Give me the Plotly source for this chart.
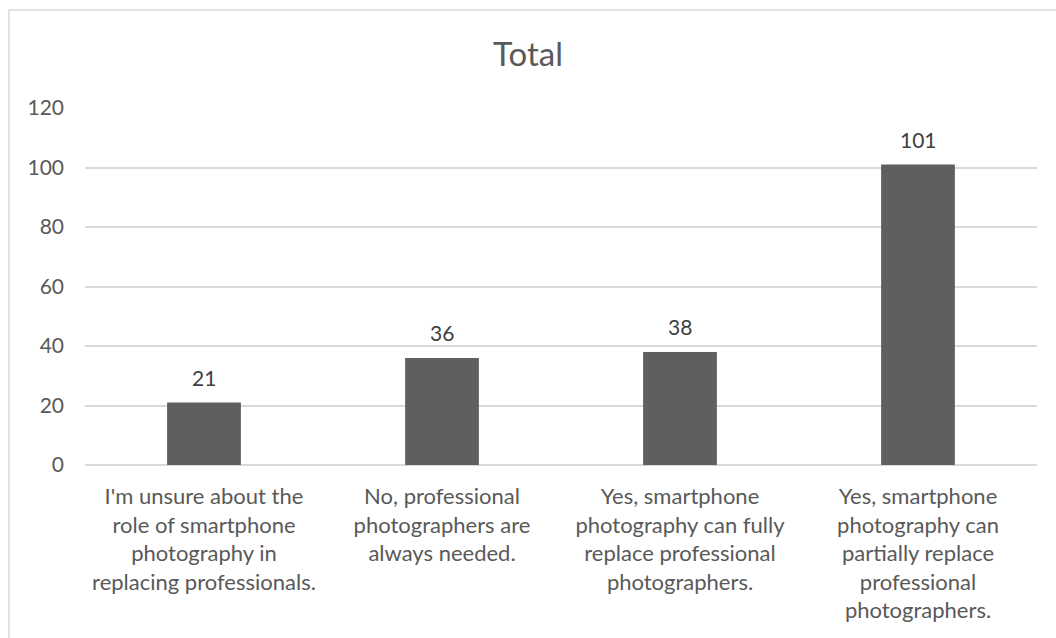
import plotly.graph_objects as go

categories = [
    "I'm unsure about the<br>role of smartphone<br>photography in<br>replacing professionals.",
    "No, professional<br>photographers are<br>always needed.",
    "Yes, smartphone<br>photography can fully<br>replace professional<br>photographers.",
    "Yes, smartphone<br>photography can<br>partially replace<br>professional<br>photographers.",
]
values = [21, 36, 38, 101]
tick_vals = [0, 20, 40, 60, 80, 100, 120]

FONT = "Lato"
TXT = "#595959"

fig = go.Figure(go.Bar(
    x=categories, y=values,
    marker=dict(color="#5f5f5f", line=dict(width=0)),
    width=0.31,
))

for c, v in zip(categories, values):
    fig.add_annotation(x=c, y=v, text=str(v), showarrow=False, yanchor="middle", yshift=25,
                       font=dict(family=FONT, size=21, color="#404040"))

fig.update_layout(
    width=1056, height=638,
    paper_bgcolor="white", plot_bgcolor="white",
    margin=dict(l=85, r=19, t=108, b=173),
    title=dict(text="Total", x=0.5, xanchor="center", y=(638-54)/638, yanchor="middle",
               font=dict(family=FONT, size=33, color=TXT)),
    showlegend=False,
    xaxis=dict(showgrid=False, showline=False, ticks="", tickfont=dict(family=FONT, size=22, color=TXT),
               ticklabelstandoff=16),
    yaxis=dict(range=[0, 120], tickvals=tick_vals, showgrid=True, gridcolor="#d9d9d9", gridwidth=1.5,
               zeroline=True, zerolinecolor="#d9d9d9", zerolinewidth=1.5,
               ticks="", ticklen=0, tickfont=dict(family=FONT, size=21, color=TXT),
               ticklabelstandoff=20),
    shapes=[dict(type="rect", xref="paper", yref="paper", x0=-76/952, x1=1.5, y0=-2, y1=(638-10-173)/357,
                 line=dict(color="#d9d9d9", width=1.5), fillcolor="rgba(0,0,0,0)", layer="below")],
)

fig.write_html("out.html")
